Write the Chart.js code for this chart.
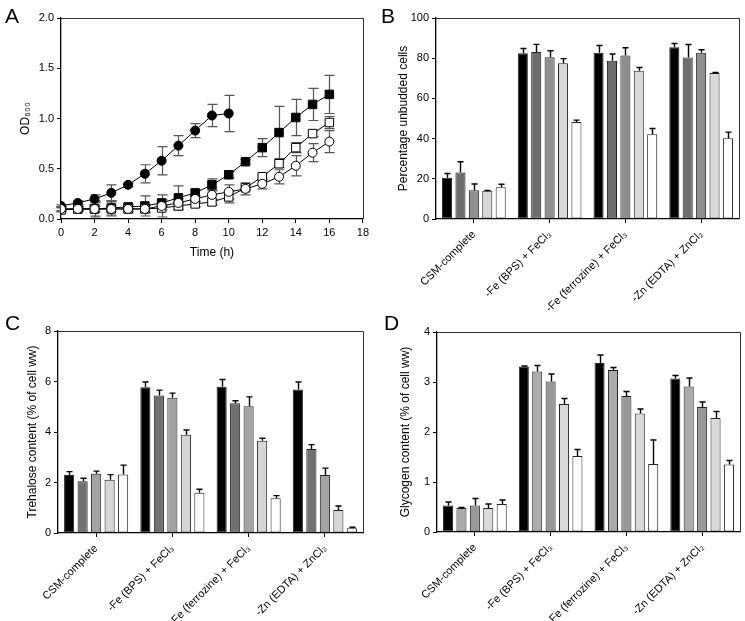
<!DOCTYPE html>
<html>
<head>
<meta charset="utf-8">
<script src="https://cdn.jsdelivr.net/npm/chart.js@4.4.0/dist/chart.umd.min.js"></script>
<style>
  body { margin: 0; background: #fff; }
  #fig { position: relative; width: 745px; height: 621px; font-family: "Liberation Sans", Arial, sans-serif; overflow: hidden; }
  canvas { position: absolute; }
  .panel { position: absolute; font-size: 21px; line-height: 21px; color: #000; }
</style>
</head>
<body>
<div id="fig">
  <canvas id="chartA" width="372" height="310" style="left:0;top:0"></canvas>
  <canvas id="chartB" width="373" height="330" style="left:372px;top:0"></canvas>
  <canvas id="chartC" width="372" height="311" style="left:0;top:310px"></canvas>
  <canvas id="chartD" width="373" height="311" style="left:372px;top:310px"></canvas>
  <div class="panel" style="left:5px;top:5px">A</div>
  <div class="panel" style="left:381px;top:5px">B</div>
  <div class="panel" style="left:5px;top:312px">C</div>
  <div class="panel" style="left:384px;top:312px">D</div>
</div>
<script>
// panel A: growth curves
const hours = [0,1,2,3,4,5,6,7,8,9,10,11,12,13,14,15,16];
const filledCircle    = [0.13,0.16,0.20,0.26,0.34,0.45,0.58,0.73,0.88,1.03,1.05];
const filledCircleErr = [0.01,0.02,0.04,0.08,0.02,0.09,0.14,0.10,0.07,0.11,0.18];
const filledSquare    = [0.10,0.10,0.10,0.11,0.12,0.13,0.16,0.21,0.26,0.34,0.44,0.57,0.71,0.86,1.01,1.14,1.24];
const filledSquareErr = [0.02,0.02,0.08,0.07,0.02,0.10,0.03,0.12,0.03,0.06,0.03,0.02,0.09,0.26,0.18,0.16,0.19];
const openSquare      = [0.09,0.10,0.10,0.10,0.10,0.10,0.11,0.13,0.15,0.17,0.22,0.31,0.42,0.55,0.71,0.85,0.96];
const openSquareErr   = [0.02,0.02,0.03,0.03,0.02,0.03,0.02,0.03,0.03,0.03,0.06,0.02,0.03,0.04,0.05,0.03,0.06];
const openCircle      = [0.10,0.10,0.10,0.10,0.10,0.10,0.13,0.16,0.20,0.24,0.27,0.30,0.35,0.42,0.53,0.66,0.77];
const openCircleErr   = [0.02,0.02,0.07,0.07,0.04,0.04,0.11,0.04,0.03,0.05,0.07,0.06,0.05,0.07,0.10,0.09,0.11];
const xTicksA = [0,2,4,6,8,10,12,14,16,18];
const yTicksA = [0,0.5,1.0,1.5,2.0];

// panels B-D: bar groups
const conditions = ['CSM-complete', '-Fe (BPS) + FeCl\u2083', '-Fe (ferrozine) + FeCl\u2083', '-Zn (EDTA) + ZnCl\u2082'];
const barSeries = ['Bar 1', 'Bar 2', 'Bar 3', 'Bar 4', 'Bar 5'];

const unbudded = [
  [20.5, 82.5, 82.7, 85.5],
  [23.1, 83.1, 78.7, 80.3],
  [14.3, 80.5, 81.3, 82.7],
  [14.0, 77.5, 73.8, 72.6],
  [15.8, 48.2, 42.2, 40.2]
];
const unbuddedErr = [
  [2.1, 2.3, 3.6, 1.8],
  [5.4, 3.8, 3.4, 6.5],
  [3.1, 3.2, 3.9, 1.5],
  [0.2, 2.3, 1.6, 0.3],
  [1.5, 1.0, 2.8, 3.0]
];
const trehalose = [
  [2.30, 5.77, 5.79, 5.68],
  [2.05, 5.45, 5.14, 3.33],
  [2.35, 5.36, 5.02, 2.30],
  [2.11, 3.89, 3.65, 0.91],
  [2.32, 1.59, 1.38, 0.19]
];
const trehaloseErr = [
  [0.13, 0.21, 0.29, 0.30],
  [0.12, 0.21, 0.10, 0.17],
  [0.10, 0.18, 0.37, 0.27],
  [0.20, 0.19, 0.10, 0.16],
  [0.37, 0.14, 0.10, 0.04]
];
const glycogen = [
  [0.53, 3.31, 3.38, 3.07],
  [0.48, 3.21, 3.24, 2.91],
  [0.53, 3.01, 2.72, 2.50],
  [0.48, 2.56, 2.37, 2.28],
  [0.56, 1.52, 1.36, 1.35]
];
const glycogenErr = [
  [0.07, 0.01, 0.16, 0.06],
  [0.01, 0.12, 0.05, 0.17],
  [0.14, 0.15, 0.09, 0.10],
  [0.08, 0.11, 0.09, 0.13],
  [0.08, 0.13, 0.48, 0.08]
];

Chart.defaults.font.family = '"Liberation Sans", Arial, sans-serif';
Chart.defaults.color = '#000';

const framePlugin = {
  id: 'frame',
  afterDraw(chart) {
    const { ctx, chartArea: a } = chart;
    ctx.save();
    ctx.strokeStyle = '#333';
    ctx.lineWidth = 1;
    ctx.beginPath();
    ctx.moveTo(a.left, Math.round(a.top) + 0.5);
    ctx.lineTo(Math.round(a.right) + 0.5, Math.round(a.top) + 0.5);
    ctx.lineTo(Math.round(a.right) + 0.5, a.bottom);
    ctx.stroke();
    ctx.restore();
  }
};

function drawErrors(chart, opts) {
  const ctx = chart.ctx, ys = chart.scales.y;
  ctx.save();
  ctx.strokeStyle = opts.color;
  ctx.lineWidth = opts.lineWidth;
  chart.data.datasets.forEach((ds, di) => {
    if (!ds.errors) return;
    const meta = chart.getDatasetMeta(di);
    meta.data.forEach((el, i) => {
      const e = ds.errors[i];
      if (!e) return;
      const raw = ds.data[i];
      const v = typeof raw === 'object' ? raw.y : raw;
      const top = ys.getPixelForValue(v + e);
      const bottom = opts.upOnly ? el.y : ys.getPixelForValue(v - e);
      const half = opts.upOnly ? el.width * 0.3 : opts.capHalf;
      const x = Math.round(el.x) + 0.5;
      ctx.beginPath();
      ctx.moveTo(x, top); ctx.lineTo(x, bottom);
      ctx.moveTo(x - half, top); ctx.lineTo(x + half, top);
      if (!opts.upOnly) { ctx.moveTo(x - half, bottom); ctx.lineTo(x + half, bottom); }
      ctx.stroke();
    });
  });
  ctx.restore();
}

const errorBarPlugin = {
  id: 'errorBars',
  beforeDatasetsDraw(chart, args, opts) { if (opts.behind) drawErrors(chart, opts); },
  afterDatasetsDraw(chart, args, opts) { if (!opts.behind) drawErrors(chart, opts); }
};

function axisLine() {
  return { color: '#000', width: 1.3 };
}

function renderGrowth() {
  const pts = arr => arr.map((v, i) => ({ x: hours[i], y: v }));
  const mk = (data, errors, style, radius, fill) => ({
    data: pts(data), errors,
    borderColor: '#000', borderWidth: 1, tension: 0,
    pointStyle: style, pointRadius: radius, pointHoverRadius: radius,
    pointBackgroundColor: fill, pointBorderColor: '#000', pointBorderWidth: 1
  });
  new Chart(document.getElementById('chartA'), {
    type: 'line',
    data: {
      datasets: [
        mk(openCircle, openCircleErr, 'circle', 4.5, '#fff'),
        mk(openSquare, openSquareErr, 'rect', 6, '#fff'),
        mk(filledSquare, filledSquareErr, 'rect', 6, '#000'),
        mk(filledCircle, filledCircleErr, 'circle', 4.5, '#000')
      ]
    },
    options: {
      responsive: false, animation: false,
      layout: { padding: { left: 14, top: 18, right: 8, bottom: 46 } },
      plugins: {
        legend: { display: false }, tooltip: { enabled: false },
        errorBars: { behind: true, color: '#555', lineWidth: 1.2, capHalf: 5 }
      },
      scales: {
        x: {
          type: 'linear', min: 0, max: 18,
          afterBuildTicks: s => { s.ticks = xTicksA.map(v => ({ value: v })); },
          afterFit: s => { s.height = 45; },
          ticks: { font: { size: 11 }, padding: 3 },
          grid: { drawOnChartArea: false, tickLength: 4, color: '#000' },
          border: axisLine(),
          title: { display: true, text: 'Time (h)', font: { size: 12 }, padding: { top: 4, bottom: 4 } }
        },
        y: {
          min: 0, max: 2,
          afterBuildTicks: s => { s.ticks = yTicksA.map(v => ({ value: v })); },
          afterFit: s => { s.width = 47; },
          ticks: { font: { size: 11 }, padding: 3, callback: v => v.toFixed(1) },
          grid: { drawOnChartArea: false, tickLength: 4, color: '#000' },
          border: axisLine(),
          title: { display: true, text: 'OD\u2086\u2080\u2080', font: { size: 12 }, padding: { top: 4, bottom: 4 } }
        }
      }
    },
    plugins: [framePlugin, errorBarPlugin]
  });
}

function renderBars(id, values, errors, colors, yMax, yStep, yTitle, box) {
  const datasets = barSeries.map((name, si) => ({
    label: name,
    data: values[si],
    errors: errors[si],
    backgroundColor: colors[si],
    borderColor: '#222', borderWidth: 1, borderSkipped: false,
    categoryPercentage: 0.885, barPercentage: 0.75
  }));
  new Chart(document.getElementById(id), {
    type: 'bar',
    data: { labels: conditions, datasets },
    options: {
      responsive: false, animation: false,
      layout: { padding: { left: box.padLeft, top: box.padTop, right: box.padRight, bottom: box.padBottom } },
      plugins: {
        legend: { display: false }, tooltip: { enabled: false },
        errorBars: { behind: false, upOnly: true, color: '#000', lineWidth: 1.4 }
      },
      scales: {
        x: {
          afterFit: s => { s.height = box.xHeight; },
          ticks: { font: { size: 11 }, minRotation: 45, maxRotation: 45, autoSkip: false, padding: 5 },
          grid: { drawOnChartArea: false, offset: false, tickLength: 4, color: '#000' },
          border: axisLine()
        },
        y: {
          min: 0, max: yMax,
          ticks: { stepSize: yStep, font: { size: 11 }, padding: 3 },
          afterFit: s => { s.width = box.yWidth; },
          grid: { drawOnChartArea: false, tickLength: 4, color: '#000' },
          border: axisLine(),
          title: { display: true, text: yTitle, font: { size: 12 }, padding: { top: 4, bottom: 4 } }
        }
      }
    },
    plugins: [framePlugin, errorBarPlugin]
  });
}

renderGrowth();
renderBars('chartB', unbudded, unbuddedErr, ['#000000', '#6e6e6e', '#8f8f8f', '#d9d9d9', '#ffffff'],
  100, 20, 'Percentage unbudded cells', { padLeft: 20, yWidth: 44, padTop: 18, padRight: 6, padBottom: 20, xHeight: 91 });
renderBars('chartC', trehalose, trehaloseErr, ['#000000', '#707070', '#a3a3a3', '#d6d6d6', '#ffffff'],
  8, 2, 'Trehalose content (% of cell ww)', { padLeft: 21, yWidth: 37, padTop: 21, padRight: 9, padBottom: 0, xHeight: 88 });
renderBars('chartD', glycogen, glycogenErr, ['#000000', '#ababab', '#999999', '#d9d9d9', '#ffffff'],
  4, 1, 'Glycogen content (% of cell ww)', { padLeft: 22, yWidth: 43, padTop: 22, padRight: 5, padBottom: 0, xHeight: 89 });
</script>
</body>
</html>
